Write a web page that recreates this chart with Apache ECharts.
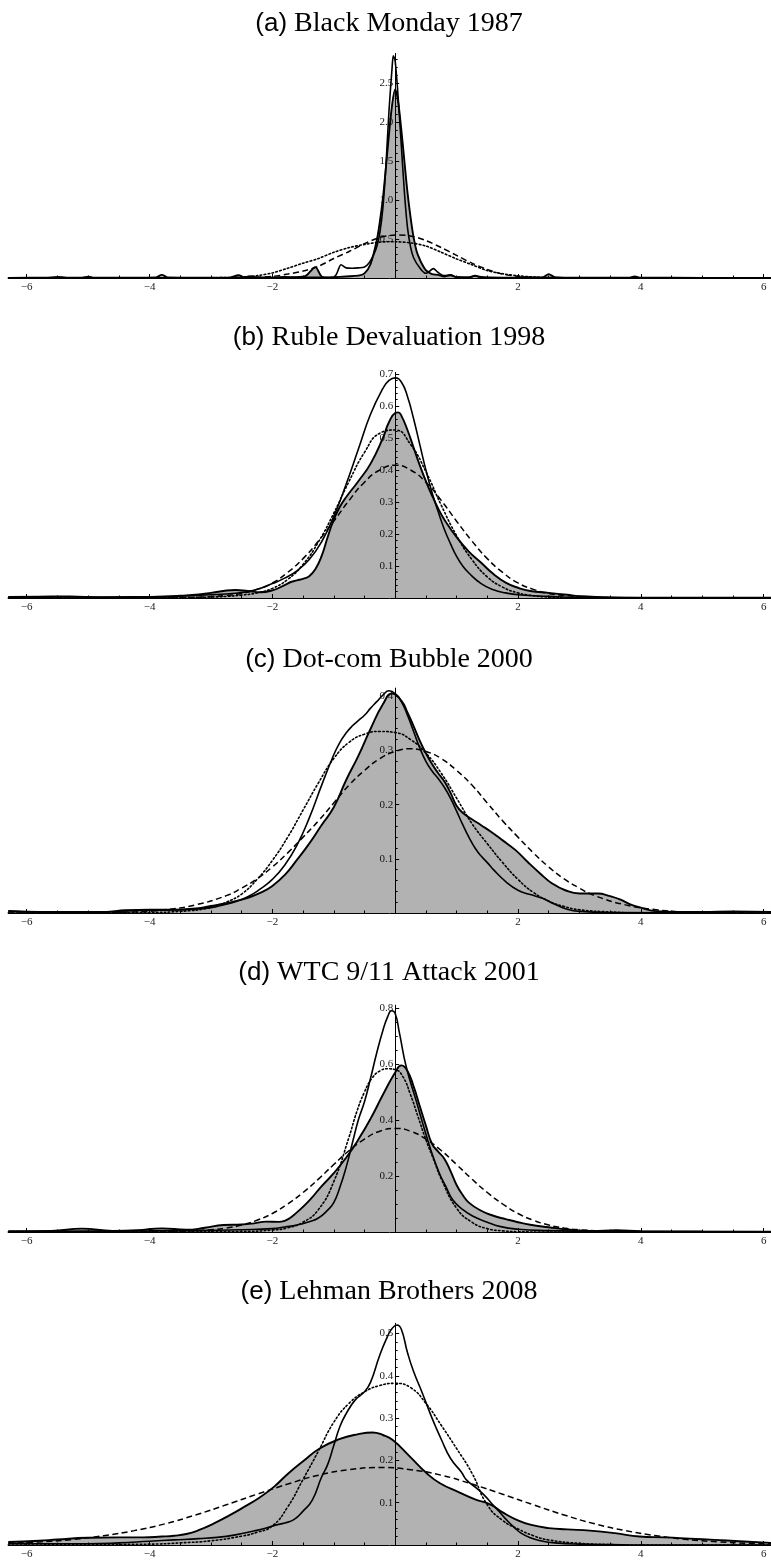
<!DOCTYPE html>
<html><head><meta charset="utf-8">
<script src="https://cdn.jsdelivr.net/npm/echarts@6/dist/echarts.min.js"></script>
<style>html,body{margin:0;padding:0;background:#fff}#c{width:771px;height:1563px}</style>
</head><body><div id="c"></div><script>
// ---------- text / ticks ----------
const panelLetters = ['(a)', '(b)', '(c)', '(d)', '(e)'];
const panelNames = ['Black Monday 1987', 'Ruble Devaluation 1998', 'Dot-com Bubble 2000', 'WTC 9/11 Attack 2001', 'Lehman Brothers 2008'];
const xTickLabels = [-6, -4, -2, 2, 4, 6];
const xMinorTicks = [-5.5,-5,-4.5,-3.5,-3,-2.5,-1.5,-1,-0.5,0.5,1,1.5,2.5,3,3.5,4.5,5,5.5];
const xRange = [-6.3, 6.12];
const yMaxes = [2.88, 0.705, 0.415, 0.81, 0.524];
const yTickLabels = [
  [0.5, 1.0, 1.5, 2.0, 2.5],
  [0.1, 0.2, 0.3, 0.4, 0.5, 0.6, 0.7],
  [0.1, 0.2, 0.3, 0.4],
  [0.2, 0.4, 0.6, 0.8],
  [0.1, 0.2, 0.3, 0.4, 0.5]
];
const yMinorSteps = [0.1, 0.02, 0.02, 0.05, 0.02];

// ---------- data: [x, density] ----------
// (a) Black Monday 1987
const aFill = [[-6.3,0.002],[-5.7,0.003],[-5.5,0.014],[-5.35,0.004],[-5.1,0.005],[-5.0,0.018],[-4.9,0.004],[-4.3,0.003],[-3.9,0.006],[-3.8,0.04],[-3.7,0.006],[-3.2,0.003],[-2.7,0.004],[-2.55,0.035],[-2.45,0.01],[-2.35,0.022],[-2.25,0.008],[-2.0,0.006],[-1.8,0.012],[-1.6,0.01],[-1.45,0.03],[-1.3,0.14],[-1.2,0.02],[-1.1,0.005],[-1.0,0.01],[-0.8,0.02],[-0.6,0.03],[-0.5,0.06],[-0.4,0.18],[-0.3,0.48],[-0.25,0.72],[-0.2,1.02],[-0.15,1.42],[-0.1,1.85],[-0.05,2.22],[0,2.42],[0.05,2.25],[0.1,1.9],[0.15,1.5],[0.2,1.1],[0.25,0.78],[0.3,0.52],[0.35,0.34],[0.4,0.24],[0.45,0.16],[0.5,0.1],[0.6,0.05],[0.7,0.04],[0.8,0.02],[0.9,0.035],[1.0,0.01],[1.2,0.008],[1.3,0.03],[1.4,0.006],[1.8,0.004],[2.1,0.006],[2.4,0.008],[2.5,0.05],[2.6,0.01],[3.0,0.003],[3.8,0.004],[3.9,0.02],[4.0,0.004],[5.0,0.002],[6.12,0.002]];
const aThin = [[-6.3,0.002],[-3.0,0.003],[-2.0,0.004],[-1.6,0.01],[-1.2,0.01],[-1.0,0.01],[-0.95,0.06],[-0.88,0.17],[-0.8,0.13],[-0.7,0.125],[-0.6,0.13],[-0.5,0.14],[-0.42,0.2],[-0.35,0.3],[-0.3,0.4],[-0.25,0.58],[-0.2,0.9],[-0.15,1.45],[-0.1,2.15],[-0.05,2.7],[-0.03,2.85],[0,2.78],[0.05,2.3],[0.1,1.7],[0.15,1.1],[0.2,0.65],[0.25,0.4],[0.3,0.26],[0.4,0.13],[0.5,0.06],[0.55,0.08],[0.62,0.12],[0.7,0.07],[0.8,0.03],[0.9,0.04],[1.0,0.012],[1.2,0.01],[1.3,0.025],[1.5,0.005],[2.0,0.003],[3.0,0.002],[6.12,0.002]];
const aDot = [[-6.3,0],[-3.5,0.001],[-3,0.003],[-2.75,0.006],[-2.5,0.012],[-2.25,0.03],[-2,0.065],[-1.75,0.125],[-1.5,0.19],[-1.25,0.25],[-1,0.33],[-0.75,0.39],[-0.5,0.43],[-0.25,0.46],[0,0.465],[0.25,0.45],[0.5,0.41],[0.75,0.33],[1,0.245],[1.25,0.17],[1.5,0.095],[1.75,0.055],[2,0.028],[2.25,0.013],[2.5,0.005],[2.75,0.002],[3,0.001],[3.5,0],[6.12,0]];
const aDash = [[-6.3,0],[-3.5,0],[-3,0.001],[-2.75,0.002],[-2.5,0.004],[-2.25,0.01],[-2,0.02],[-1.75,0.05],[-1.5,0.09],[-1.25,0.15],[-1,0.25],[-0.75,0.34],[-0.5,0.44],[-0.25,0.52],[0,0.55],[0.25,0.54],[0.5,0.48],[0.75,0.39],[1,0.29],[1.25,0.19],[1.5,0.11],[1.75,0.05],[2,0.022],[2.25,0.008],[2.5,0.003],[2.75,0.001],[3,0],[3.5,0],[6.12,0]];

// (b) Ruble Devaluation 1998
const bFill = [[-6.3,0.003],[-5.8,0.004],[-5.3,0.005],[-4.8,0.002],[-4.3,0.003],[-3.8,0.004],[-3.5,0.007],[-3.2,0.011],[-3.0,0.016],[-2.8,0.022],[-2.6,0.025],[-2.4,0.022],[-2.2,0.018],[-2.0,0.024],[-1.8,0.04],[-1.7,0.05],[-1.6,0.055],[-1.5,0.06],[-1.4,0.068],[-1.3,0.09],[-1.2,0.13],[-1.1,0.19],[-1.0,0.245],[-0.9,0.285],[-0.8,0.315],[-0.6,0.365],[-0.4,0.42],[-0.2,0.5],[-0.1,0.55],[0,0.578],[0.05,0.58],[0.1,0.57],[0.2,0.525],[0.3,0.47],[0.4,0.415],[0.5,0.365],[0.6,0.32],[0.7,0.28],[0.8,0.245],[1.0,0.19],[1.2,0.145],[1.4,0.11],[1.6,0.075],[1.8,0.048],[2.0,0.032],[2.2,0.022],[2.5,0.016],[2.8,0.01],[3.0,0.006],[3.5,0.002],[4.0,0.001],[6.12,0.001]];
const bThin = [[-6.3,0.003],[-5,0.003],[-4,0.004],[-3.5,0.006],[-3.0,0.01],[-2.6,0.015],[-2.4,0.02],[-2.2,0.03],[-2.0,0.045],[-1.8,0.062],[-1.6,0.085],[-1.4,0.12],[-1.2,0.175],[-1.0,0.255],[-0.8,0.355],[-0.6,0.465],[-0.4,0.575],[-0.2,0.655],[-0.1,0.68],[0,0.688],[0.1,0.675],[0.2,0.63],[0.3,0.56],[0.4,0.48],[0.5,0.4],[0.6,0.33],[0.7,0.27],[0.8,0.215],[0.9,0.17],[1.0,0.13],[1.1,0.1],[1.2,0.078],[1.4,0.045],[1.6,0.026],[1.8,0.016],[2.0,0.01],[2.5,0.005],[3.0,0.002],[4.0,0.001],[6.12,0]];
const bDot = [[-6.3,0],[-4,0],[-3.5,0.001],[-3,0.003],[-2.75,0.005],[-2.5,0.009],[-2.25,0.016],[-2,0.03],[-1.75,0.058],[-1.5,0.105],[-1.25,0.175],[-1,0.265],[-0.75,0.365],[-0.5,0.455],[-0.25,0.515],[0,0.525],[0.25,0.48],[0.5,0.395],[0.75,0.29],[1,0.195],[1.25,0.12],[1.5,0.066],[1.75,0.034],[2,0.016],[2.25,0.007],[2.5,0.003],[2.75,0.001],[3,0],[6.12,0]];
const bDash = [[-6.3,0],[-4,0],[-3.5,0.001],[-3,0.004],[-2.75,0.008],[-2.5,0.014],[-2.25,0.027],[-2,0.047],[-1.75,0.08],[-1.5,0.123],[-1.25,0.178],[-1,0.24],[-0.75,0.305],[-0.5,0.362],[-0.25,0.4],[0,0.415],[0.25,0.4],[0.5,0.362],[0.75,0.305],[1,0.24],[1.25,0.178],[1.5,0.123],[1.75,0.08],[2,0.047],[2.25,0.027],[2.5,0.014],[2.75,0.008],[3,0.004],[3.5,0.001],[4,0],[6.12,0]];

// (c) Dot-com Bubble 2000
const cFill = [[-6.3,0.004],[-5.8,0.002],[-5.2,0.001],[-4.7,0.002],[-4.4,0.005],[-4.0,0.006],[-3.6,0.006],[-3.2,0.009],[-3.0,0.013],[-2.8,0.017],[-2.6,0.022],[-2.4,0.028],[-2.2,0.037],[-2.0,0.05],[-1.8,0.07],[-1.6,0.098],[-1.4,0.128],[-1.2,0.162],[-1.0,0.195],[-0.8,0.245],[-0.6,0.29],[-0.4,0.34],[-0.2,0.385],[-0.05,0.405],[0.1,0.392],[0.2,0.37],[0.3,0.345],[0.4,0.318],[0.5,0.295],[0.6,0.275],[0.7,0.258],[0.8,0.243],[0.9,0.222],[1.0,0.198],[1.1,0.185],[1.25,0.173],[1.4,0.162],[1.56,0.15],[1.75,0.134],[1.96,0.116],[2.15,0.095],[2.36,0.073],[2.55,0.055],[2.77,0.042],[3.0,0.036],[3.3,0.036],[3.5,0.031],[3.66,0.025],[3.85,0.015],[4.0,0.01],[4.2,0.004],[4.6,0.002],[5.0,0.002],[5.5,0.003],[6.12,0.002]];
const cThin = [[-6.3,0.003],[-5.5,0.002],[-4.8,0.002],[-4.4,0.004],[-4.0,0.005],[-3.5,0.006],[-3.0,0.01],[-2.8,0.015],[-2.6,0.021],[-2.4,0.03],[-2.2,0.044],[-2.0,0.062],[-1.8,0.088],[-1.6,0.125],[-1.4,0.175],[-1.2,0.235],[-1.0,0.292],[-0.9,0.315],[-0.8,0.332],[-0.7,0.345],[-0.6,0.355],[-0.5,0.365],[-0.4,0.378],[-0.3,0.39],[-0.2,0.402],[-0.1,0.41],[0,0.405],[0.1,0.39],[0.2,0.365],[0.3,0.335],[0.4,0.305],[0.5,0.28],[0.6,0.262],[0.7,0.248],[0.8,0.232],[0.9,0.212],[1.0,0.188],[1.1,0.163],[1.2,0.14],[1.3,0.12],[1.4,0.105],[1.5,0.093],[1.6,0.08],[1.8,0.058],[2.0,0.042],[2.2,0.034],[2.4,0.027],[2.6,0.016],[2.8,0.007],[3.0,0.003],[3.5,0.001],[6.12,0]];
const cDot = [[-6.3,0],[-4,0.001],[-3.5,0.003],[-3,0.01],[-2.75,0.02],[-2.5,0.035],[-2.25,0.062],[-2,0.097],[-1.75,0.14],[-1.5,0.19],[-1.25,0.24],[-1,0.285],[-0.75,0.315],[-0.5,0.33],[-0.25,0.335],[0,0.333],[0.25,0.32],[0.5,0.295],[0.75,0.258],[1,0.212],[1.25,0.165],[1.5,0.128],[1.75,0.093],[2,0.062],[2.25,0.038],[2.5,0.022],[2.75,0.012],[3,0.006],[3.5,0.002],[4,0],[6.12,0]];
const cDash = [[-6.3,0],[-4.75,0.001],[-4.25,0.002],[-3.75,0.006],[-3.25,0.015],[-2.75,0.032],[-2.5,0.046],[-2.25,0.063],[-2,0.085],[-1.75,0.111],[-1.5,0.14],[-1.25,0.17],[-1,0.203],[-0.75,0.236],[-0.5,0.263],[-0.25,0.285],[0,0.298],[0.25,0.303],[0.5,0.298],[0.75,0.285],[1,0.263],[1.25,0.236],[1.5,0.203],[1.75,0.17],[2,0.14],[2.25,0.111],[2.5,0.085],[2.75,0.063],[3,0.046],[3.25,0.032],[3.75,0.015],[4.25,0.006],[4.75,0.002],[6.12,0]];

// (d) WTC 9/11 Attack 2001
const dFill = [[-6.3,0.003],[-5.6,0.004],[-5.1,0.012],[-4.6,0.004],[-4.2,0.006],[-3.8,0.013],[-3.4,0.008],[-3.1,0.015],[-2.8,0.025],[-2.5,0.027],[-2.3,0.031],[-2.1,0.037],[-1.9,0.036],[-1.8,0.04],[-1.7,0.052],[-1.6,0.07],[-1.4,0.112],[-1.2,0.163],[-1.0,0.21],[-0.8,0.265],[-0.6,0.33],[-0.4,0.405],[-0.2,0.49],[0,0.57],[0.1,0.595],[0.2,0.575],[0.3,0.52],[0.4,0.45],[0.5,0.38],[0.6,0.315],[0.7,0.287],[0.8,0.262],[0.9,0.218],[1.0,0.168],[1.1,0.132],[1.2,0.105],[1.4,0.076],[1.6,0.058],[1.8,0.046],[2.0,0.035],[2.2,0.026],[2.5,0.017],[2.8,0.009],[3.2,0.004],[3.6,0.006],[4.0,0.003],[5.0,0.002],[6.12,0.001]];
const dThin = [[-6.3,0.002],[-5,0.003],[-4,0.004],[-3,0.006],[-2.5,0.008],[-2.0,0.012],[-1.8,0.018],[-1.6,0.025],[-1.4,0.037],[-1.25,0.05],[-1.1,0.078],[-1.0,0.105],[-0.9,0.16],[-0.8,0.23],[-0.7,0.315],[-0.6,0.4],[-0.5,0.465],[-0.4,0.55],[-0.3,0.64],[-0.2,0.72],[-0.12,0.77],[-0.06,0.79],[0,0.78],[0.07,0.71],[0.18,0.59],[0.34,0.47],[0.5,0.35],[0.6,0.28],[0.72,0.21],[0.83,0.16],[0.94,0.114],[1.1,0.08],[1.26,0.057],[1.5,0.035],[1.7,0.02],[2.0,0.01],[2.5,0.005],[3.0,0.003],[4.0,0.002],[6.12,0.001]];
const dDot = [[-6.3,0],[-2.5,0.002],[-2,0.007],[-1.75,0.015],[-1.5,0.035],[-1.25,0.08],[-1,0.18],[-0.75,0.34],[-0.625,0.43],[-0.5,0.5],[-0.375,0.55],[-0.25,0.575],[-0.125,0.583],[0,0.58],[0.125,0.555],[0.25,0.49],[0.375,0.41],[0.5,0.33],[0.625,0.26],[0.75,0.19],[1,0.085],[1.25,0.035],[1.5,0.012],[1.75,0.004],[2,0.001],[2.5,0],[6.12,0]];
const dDash = [[-6.3,0],[-4,0],[-3.5,0.002],[-3,0.008],[-2.75,0.014],[-2.5,0.025],[-2.25,0.042],[-2,0.066],[-1.75,0.1],[-1.5,0.141],[-1.25,0.189],[-1,0.241],[-0.75,0.291],[-0.5,0.332],[-0.25,0.36],[0,0.37],[0.25,0.36],[0.5,0.332],[0.75,0.291],[1,0.241],[1.25,0.189],[1.5,0.141],[1.75,0.1],[2,0.066],[2.25,0.042],[2.5,0.025],[2.75,0.014],[3,0.008],[3.5,0.002],[4,0],[6.12,0]];

// (e) Lehman Brothers 2008
const eFill = [[-6.3,0.007],[-5.8,0.01],[-5.5,0.013],[-5.0,0.017],[-4.5,0.018],[-4.1,0.018],[-3.8,0.02],[-3.6,0.022],[-3.4,0.026],[-3.2,0.035],[-2.95,0.051],[-2.7,0.07],[-2.46,0.09],[-2.2,0.113],[-1.97,0.138],[-1.75,0.168],[-1.5,0.198],[-1.23,0.228],[-0.91,0.25],[-0.6,0.262],[-0.37,0.266],[-0.2,0.26],[-0.04,0.248],[0.24,0.209],[0.51,0.17],[0.73,0.146],[1.05,0.124],[1.3,0.108],[1.56,0.095],[1.75,0.077],[1.97,0.06],[2.2,0.048],[2.5,0.04],[2.8,0.037],[3.17,0.034],[3.58,0.028],[3.98,0.02],[4.4,0.018],[4.8,0.015],[5.2,0.012],[5.6,0.009],[6.12,0.005]];
const eThin = [[-6.3,0.003],[-5.0,0.003],[-4.5,0.005],[-4.0,0.009],[-3.6,0.012],[-3.2,0.015],[-2.9,0.018],[-2.6,0.024],[-2.3,0.033],[-2.1,0.04],[-1.95,0.047],[-1.8,0.052],[-1.65,0.06],[-1.5,0.08],[-1.35,0.106],[-1.2,0.16],[-1.1,0.19],[-1.0,0.235],[-0.9,0.28],[-0.8,0.31],[-0.65,0.343],[-0.5,0.362],[-0.4,0.385],[-0.26,0.445],[-0.15,0.485],[-0.05,0.512],[0.03,0.52],[0.1,0.51],[0.2,0.455],[0.3,0.41],[0.44,0.36],[0.6,0.3],[0.75,0.25],[0.9,0.205],[1.08,0.172],[1.16,0.154],[1.32,0.135],[1.45,0.118],[1.56,0.1],[1.7,0.078],[1.81,0.06],[1.95,0.04],[2.05,0.028],[2.2,0.017],[2.37,0.01],[2.6,0.005],[3.0,0.002],[3.5,0.001],[4.0,0],[6.12,0]];
const eDot = [[-6.3,0],[-4,0.002],[-3.5,0.005],[-3,0.01],[-2.5,0.021],[-2.25,0.03],[-2,0.045],[-1.75,0.09],[-1.5,0.155],[-1.25,0.222],[-1,0.29],[-0.75,0.335],[-0.5,0.362],[-0.25,0.377],[0,0.382],[0.25,0.372],[0.5,0.335],[0.75,0.283],[1,0.228],[1.25,0.17],[1.5,0.095],[1.75,0.058],[2,0.038],[2.25,0.022],[2.5,0.012],[3,0.004],[3.5,0.001],[4,0],[6.12,0]];
const eDash = [[-6.3,0.004],[-5.75,0.0076],[-5.25,0.013],[-4.75,0.022],[-4.25,0.034],[-3.75,0.05],[-3.25,0.071],[-2.75,0.095],[-2.25,0.12],[-1.75,0.144],[-1.25,0.165],[-0.75,0.178],[-0.25,0.183],[0.25,0.178],[0.75,0.165],[1.25,0.144],[1.75,0.12],[2.25,0.095],[2.75,0.071],[3.25,0.05],[3.75,0.034],[4.25,0.022],[4.75,0.013],[5.25,0.0076],[5.75,0.004],[6.12,0.003]];

const panelData = [
  [aFill, aThin, aDot, aDash],
  [bFill, bThin, bDot, bDash],
  [cFill, cThin, cDot, cDash],
  [dFill, dThin, dDot, dDash],
  [eFill, eThin, eDot, eDash]
];

// ---------- layout ----------
const GRID_LEFT = 8.3, GRID_W = 762.7;
const gridTops = [53.4, 372.4, 688.1, 1005.2, 1323.3];
const gridHeights = [224.6, 225.6, 224.9, 226.8, 221.7];
const titleY = [24, 338, 660, 973, 1292];
const TITLE_X = 389;
const SERIF = '"Liberation Serif", "Times New Roman", serif';
const SANS = '"Liberation Sans", Arial, sans-serif';
// y axis sits at x = 0: shift it from the grid's left edge
const Y_AXIS_SHIFT = (0 - xRange[0]) / (xRange[1] - xRange[0]) * GRID_W;

const grids = [], xAxes = [], yAxes = [], series = [], graphics = [];
const fmtX = v => (v < 0 ? '\u2212' : '') + Math.abs(v);
const labelStyle = { fontFamily: SERIF, fontSize: 11, color: '#222' };

for (let i = 0; i < 5; i++) {
  grids.push({ left: GRID_LEFT, top: gridTops[i], width: GRID_W, height: gridHeights[i], containLabel: false, outerBoundsMode: 'none' });
  xAxes.push({
    type: 'value', gridIndex: i, min: xRange[0], max: xRange[1], position: 'bottom',
    axisLine: { show: true, onZero: false, lineStyle: { color: '#000', width: 1 } },
    axisTick: { show: true, inside: true, length: 4, customValues: xTickLabels, lineStyle: { color: '#000', width: 1 } },
    axisLabel: Object.assign({ show: true, margin: 4, customValues: xTickLabels, formatter: fmtX, hideOverlap: false }, labelStyle),
    splitLine: { show: false }
  });
  xAxes.push({
    type: 'value', gridIndex: i, min: xRange[0], max: xRange[1], position: 'bottom',
    axisLine: { show: false, onZero: false },
    axisTick: { show: true, inside: true, length: 2.5, customValues: xMinorTicks, lineStyle: { color: '#000', width: 1 } },
    axisLabel: { show: false }, splitLine: { show: false }
  });
  const step = yMinorSteps[i];
  const majors = yTickLabels[i];
  const minors = [];
  for (let k = 1; k * step <= yMaxes[i] + 1e-9; k++) {
    const v = +(k * step).toFixed(4);
    if (!majors.some(m => Math.abs(m - v) < 1e-6)) minors.push(v);
  }
  yAxes.push({
    type: 'value', gridIndex: i, min: 0, max: yMaxes[i], position: 'left', offset: -Y_AXIS_SHIFT,
    axisLine: { show: true, onZero: false, lineStyle: { color: '#000', width: 1 } },
    axisTick: { show: true, inside: true, length: 4, customValues: majors, lineStyle: { color: '#000', width: 1 } },
    axisLabel: Object.assign({ show: true, margin: 2, customValues: majors, formatter: v => v.toFixed(1) }, labelStyle),
    splitLine: { show: false }
  });
  yAxes.push({
    type: 'value', gridIndex: i, min: 0, max: yMaxes[i], position: 'left', offset: -Y_AXIS_SHIFT,
    axisLine: { show: false, onZero: false },
    axisTick: { show: true, inside: true, length: 2.5, customValues: minors, lineStyle: { color: '#000', width: 1 } },
    axisLabel: { show: false }, splitLine: { show: false }
  });

  const [fill, thin, dot, dash] = panelData[i];
  const base = { type: 'line', xAxisIndex: 2 * i, yAxisIndex: 2 * i, symbol: 'none', smooth: i === 0 ? 0.3 : 0.5, animation: false, silent: true };
  series.push(Object.assign({}, base, { data: fill, z: 2,
    lineStyle: { color: '#000', width: 1.9 }, areaStyle: { color: 'rgba(0,0,0,0.3)', opacity: 1 } }));
  series.push(Object.assign({}, base, { data: thin, z: 3, lineStyle: { color: '#000', width: 1.6 } }));
  series.push(Object.assign({}, base, { data: dot, z: 4, lineStyle: { color: '#000', width: 1.6, type: [1.6, 2.4], cap: 'round' } }));
  series.push(Object.assign({}, base, { data: dash, z: 4, lineStyle: { color: '#000', width: 1.5, type: [6, 3.5] } }));

  graphics.push({
    type: 'text', x: TITLE_X, y: titleY[i],
    style: {
      text: '{s|' + panelLetters[i] + '}{r| ' + panelNames[i] + '}',
      align: 'center', verticalAlign: 'middle',
      rich: {
        s: { fontFamily: SANS, fontSize: 26, fill: '#000' },
        r: { fontFamily: SERIF, fontSize: 28, fill: '#000' }
      }
    }
  });
}

const chart = echarts.init(document.getElementById('c'), null, { renderer: 'canvas' });
chart.setOption({
  animation: false,
  backgroundColor: '#fff',
  grid: grids, xAxis: xAxes, yAxis: yAxes, series: series, graphic: graphics
});
</script></body></html>
